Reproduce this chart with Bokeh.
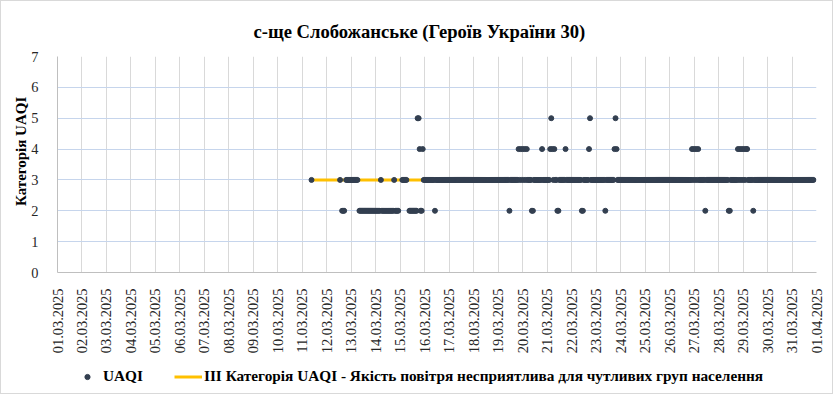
import numpy as np
from bokeh.plotting import figure
from bokeh.layouts import column
from bokeh.models import Range1d, FixedTicker, Legend, LegendItem, ColumnDataSource
from bokeh.embed import file_html
from bokeh.resources import INLINE

title_text = "с-ще Слобожанське (Героїв України 30)"
y_label = "Категорія UAQI"
series_name = "UAQI"
threshold_name = "III Категорія UAQI - Якість повітря несприятлива для чутливих груп населення"
threshold_value = 3

tick_labels = [
    "01.03.2025", "02.03.2025", "03.03.2025", "04.03.2025", "05.03.2025", "06.03.2025",
    "07.03.2025", "08.03.2025", "09.03.2025", "10.03.2025", "11.03.2025", "12.03.2025",
    "13.03.2025", "14.03.2025", "15.03.2025", "16.03.2025", "17.03.2025", "18.03.2025",
    "19.03.2025", "20.03.2025", "21.03.2025", "22.03.2025", "23.03.2025", "24.03.2025",
    "25.03.2025", "26.03.2025", "27.03.2025", "28.03.2025", "29.03.2025", "30.03.2025",
    "31.03.2025", "01.04.2025",
]
y_ticks = [0, 1, 2, 3, 4, 5, 6, 7]

# hourly UAQI category per day (hours 00..23), '-' = no measurement
data_days = [
    "11.03.2025", "12.03.2025", "13.03.2025", "14.03.2025", "15.03.2025", "16.03.2025",
    "17.03.2025", "18.03.2025", "19.03.2025", "20.03.2025", "21.03.2025", "22.03.2025",
    "23.03.2025", "24.03.2025", "25.03.2025", "26.03.2025", "27.03.2025", "28.03.2025",
    "29.03.2025", "30.03.2025", "31.03.2025",
]
hourly_uaqi = [
    "---------3--------------",
    "-------------3-222-33333",
    "3333333-2222222222222222",
    "22222322222222222232222-",
    "--33333--222222225542243",
    "333333333323333333333333",
    "333333333333333333333333",
    "333333333333333333333333",
    "333333333332333333334343",
    "434343333223333333343333",
    "333454343322333333433333",
    "333333333322333334533333",
    "333333333233333333454333",
    "333333333333333333333333",
    "333333333333333333333333",
    "333333333333333333333343",
    "434343333332333333333333",
    "333333333322333333343434",
    "343443333323333333333333",
    "333333333333333333333333",
    "3333333333333333333333--",
]

xs, ys = [], []
for day, hours in zip(data_days, hourly_uaqi):
    base = tick_labels.index(day)
    for h, ch in enumerate(hours):
        if ch != "-":
            xs.append(base + h / 24.0)
            ys.append(int(ch))

src = ColumnDataSource(data=dict(x=xs, y=ys))
thr = ColumnDataSource(data=dict(x=[min(xs), max(xs)], y=[threshold_value, threshold_value]))

FONT = "Liberation Serif"
DOT = "#333F50"
GOLD = "#FFC000"

p = figure(width=831, height=355, output_backend="svg", toolbar_location=None,
           x_range=Range1d(0, len(tick_labels) - 1), y_range=Range1d(y_ticks[0], y_ticks[-1]),
           min_border_left=56, min_border_right=16, min_border_top=55, min_border_bottom=81,
           background_fill_color="white", border_fill_color="white")
p.outline_line_color = None

p.title.text = title_text
p.title.text_font = FONT
p.title.text_font_size = "18.6px"
p.title.text_font_style = "bold"
p.title.text_color = "black"
p.title.align = "left"
p.title.offset = 196
p.title.standoff = 29

line_r = p.line("x", "y", source=thr, line_color=GOLD, line_width=3)
dot_r = p.scatter("x", "y", source=src, size=5, fill_color=DOT, line_color=DOT)

p.xaxis.ticker = FixedTicker(ticks=list(range(len(tick_labels))))
p.xaxis.major_label_overrides = {i: lab for i, lab in enumerate(tick_labels)}
p.xaxis.major_label_orientation = np.pi / 2
p.yaxis.ticker = FixedTicker(ticks=y_ticks)

for ax in (p.xaxis[0], p.yaxis[0]):
    ax.axis_line_color = "#bfbfbf"
    ax.major_tick_line_color = None
    ax.minor_tick_line_color = None
    ax.major_label_text_font = FONT
    ax.major_label_text_font_size = "14.4px"
    ax.major_label_text_color = "#262626"

p.xaxis.major_label_standoff = 10
p.yaxis.major_label_standoff = 13
# leading no-break spaces lift the rotated label a little, as in the original
p.yaxis.axis_label = "\u00a0" * 7 + y_label
p.yaxis.axis_label_text_font = FONT
p.yaxis.axis_label_text_font_size = "15px"
p.yaxis.axis_label_text_font_style = "bold"
p.yaxis.axis_label_text_color = "black"
p.yaxis.axis_label_standoff = -1

p.xgrid.grid_line_color = "#d9d9d9"
p.ygrid.grid_line_color = "#c6d5ec"

# legend strip under the chart (placeholder renderers hold no visible point)
leg_fig = figure(width=831, height=37, output_backend="svg", toolbar_location=None,
                 x_range=Range1d(0, 1), y_range=Range1d(0, 1), min_border=0,
                 x_axis_type=None, y_axis_type=None, title=None,
                 background_fill_color="white", border_fill_color="white")
leg_fig.outline_line_color = None
leg_fig.grid.visible = False
nan_src = ColumnDataSource(data=dict(x=[float("nan")], y=[float("nan")]))
leg_dot = leg_fig.scatter("x", "y", source=nan_src, size=5, fill_color=DOT, line_color=DOT)
leg_line = leg_fig.line("x", "y", source=nan_src, line_color=GOLD, line_width=3)

legend = Legend(items=[LegendItem(label=series_name, renderers=[leg_dot]),
                       LegendItem(label=threshold_name, renderers=[leg_line])],
                orientation="horizontal", location=(16, 8))
legend.label_text_font = FONT
legend.label_text_font_size = "15.3px"
legend.label_text_font_style = "bold"
legend.label_text_color = "black"
legend.glyph_width = 28
legend.glyph_height = 13
legend.label_standoff = 2
legend.spacing = 31
legend.padding = 0
legend.margin = 0
legend.border_line_color = None
legend.background_fill_alpha = 0
leg_fig.add_layout(legend)

layout = column(p, leg_fig, styles={"border": "1px solid #d9d9d9"})

open("out.html", "w").write(file_html(layout, INLINE))
